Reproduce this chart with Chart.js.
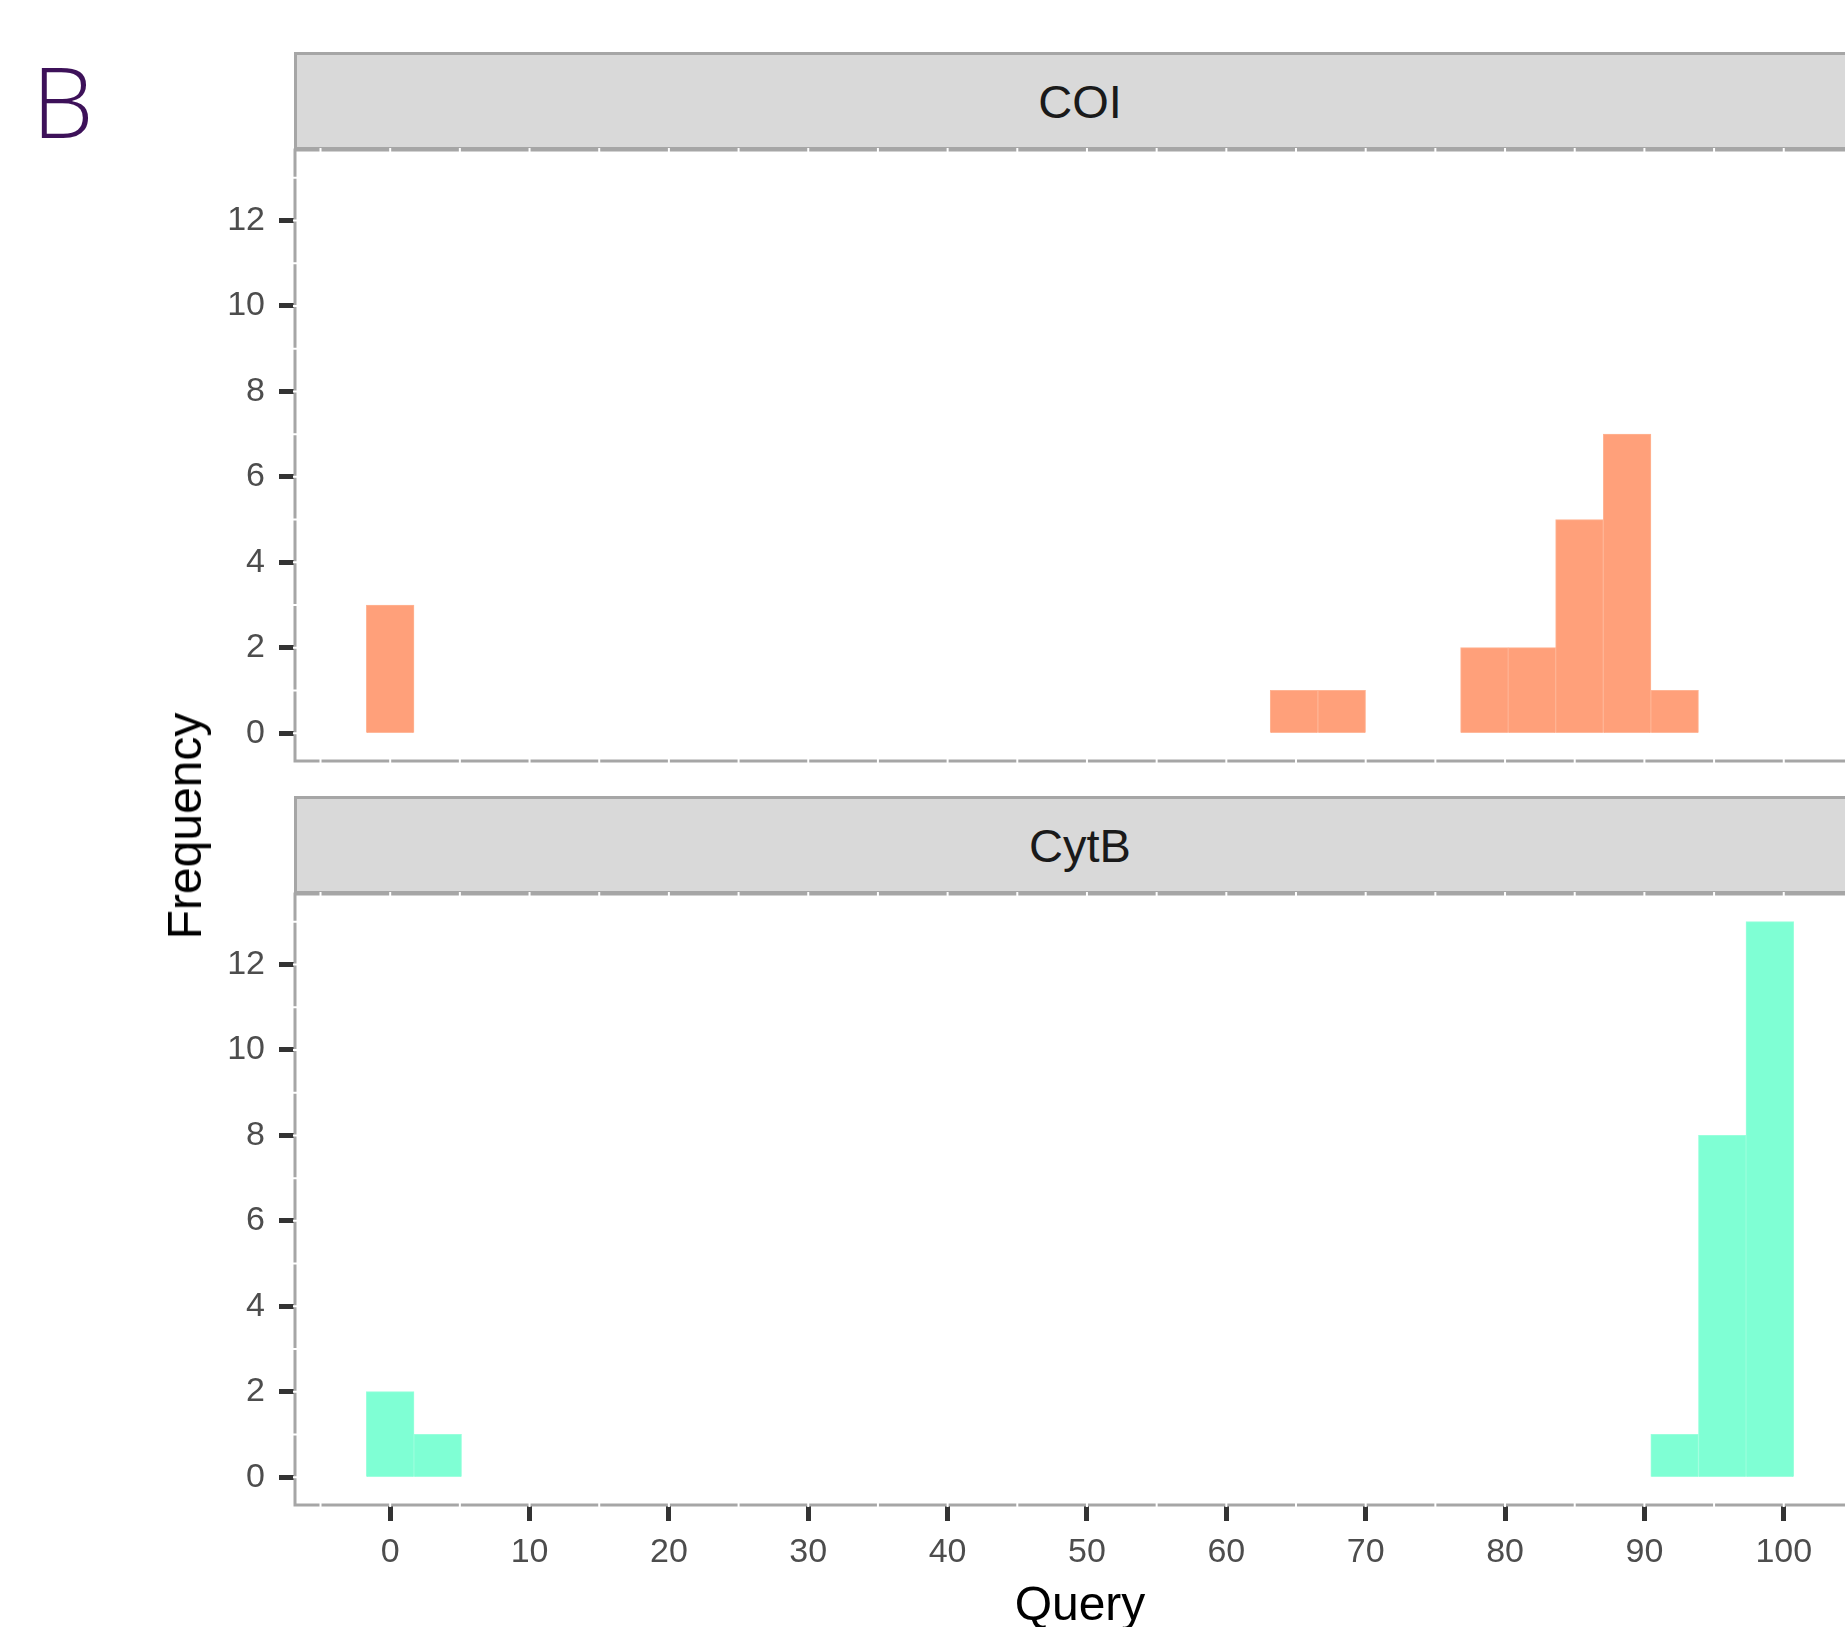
<!DOCTYPE html>
<html>
<head>
<meta charset="utf-8">
<script src="https://cdn.jsdelivr.net/npm/chart.js@4.4.1/dist/chart.umd.min.js"></script>
<style>
html, body { margin: 0; padding: 0; width: 1845px; height: 1627px; overflow: hidden; background: #fff; }
.box { position: absolute; }
.strip {
    position: absolute; left: 294px; width: 1620px; height: 98px; box-sizing: border-box;
    background: #D9D9D9; border: 3px solid #A6A6A6;
    font-family: 'Liberation Sans', Arial, sans-serif; font-size: 47px; color: #1A1A1A;
}
.strip span { position: absolute; left: 783px; top: 50%; transform: translate(-50%, -50%); line-height: 1; white-space: nowrap; }
.title { position: absolute; font-family: 'Liberation Sans', Arial, sans-serif; font-size: 48px; color: #000; line-height: 1; white-space: nowrap; }
#tag { position: absolute; left: 32px; top: 51px; font-family: 'Open Sans', sans-serif; font-weight: 300; font-size: 98px; line-height: 1; color: #3D1159; }
</style>
</head>
<body>
<div id="tag">B</div>

<div class="strip" style="top:52px"><span>COI</span></div>
<div class="box" style="left:0; top:146px; width:1865px; height:619px"><canvas id="coiChart"></canvas></div>

<div class="strip" style="top:796px"><span>CytB</span></div>
<div class="box" style="left:0; top:890px; width:1865px; height:737px"><canvas id="cytbChart"></canvas></div>

<div class="title" style="left:185px; top:826px; transform: translate(-50%, -50%) rotate(-90deg)">Frequency</div>
<div class="title" style="left:1080px; top:1580px; transform: translateX(-50%)">Query</div>

<script>
// Centres des classes de l'histogramme (30 classes, Query 0..99)
const binCenters = [0, 3.41, 6.83, 10.24, 13.66, 17.07, 20.48, 23.9, 27.31, 30.72,
    34.14, 37.55, 40.97, 44.38, 47.79, 51.21, 54.62, 58.03, 61.45, 64.86,
    68.28, 71.69, 75.1, 78.52, 81.93, 85.34, 88.76, 92.17, 95.59, 99];

// Effectifs par classe
const coiCounts  = [3, 0, 0, 0, 0, 0, 0, 0, 0, 0, 0, 0, 0, 0, 0, 0, 0, 0, 0, 1, 1, 0, 0, 2, 2, 5, 7, 1, 0, 0];
const cytbCounts = [2, 1, 0, 0, 0, 0, 0, 0, 0, 0, 0, 0, 0, 0, 0, 0, 0, 0, 0, 0, 0, 0, 0, 0, 0, 0, 0, 1, 8, 13];

// Graduations
const xTicks = [0, 10, 20, 30, 40, 50, 60, 70, 80, 90, 100];
const yTicks = [0, 2, 4, 6, 8, 10, 12];

const tickFont = { family: "'Liberation Sans', Arial, sans-serif", size: 34 };

// Cadre du panneau (gris) avec les petites coupures blanches de la grille
const panelFrame = {
    id: 'panelFrame',
    afterDraw(chart) {
        const { ctx, chartArea: a, scales } = chart;
        ctx.save();
        ctx.strokeStyle = '#A6A6A6';
        ctx.lineWidth = 3;
        ctx.strokeRect(a.left, a.top, a.right - a.left, a.bottom - a.top);

        ctx.strokeStyle = '#FFFFFF';
        ctx.lineWidth = 2;
        ctx.beginPath();
        for (let v = -5; v <= 105; v += 5) {
            const px = scales.x.getPixelForValue(v);
            ctx.moveTo(px, a.top - 2); ctx.lineTo(px, a.top + 2);
            ctx.moveTo(px, a.bottom - 2); ctx.lineTo(px, a.bottom + 2);
        }
        for (let v = 0; v <= 13; v++) {
            const py = scales.y.getPixelForValue(v);
            ctx.moveTo(a.left - 2, py); ctx.lineTo(a.left + 2, py);
        }
        ctx.stroke();
        ctx.restore();
    }
};

function makeHistogram(canvasId, counts, color, edgeColor, showX) {
    const points = binCenters.map((c, i) => ({ x: c, y: counts[i] > 0 ? counts[i] : null }));
    return new Chart(document.getElementById(canvasId), {
        type: 'bar',
        data: {
            datasets: [{
                data: points,
                backgroundColor: color,
                borderColor: edgeColor,
                borderWidth: 1,
                inflateAmount: 0.4,
                categoryPercentage: 1,
                barPercentage: 1
            }]
        },
        options: {
            responsive: true,
            maintainAspectRatio: false,
            animation: false,
            layout: { padding: { top: 4, bottom: showX ? 0 : 4, left: 0, right: 0 } },
            plugins: { legend: { display: false }, tooltip: { enabled: false } },
            scales: {
                x: {
                    type: 'linear',
                    display: showX,
                    offset: false,
                    min: -6.83,
                    max: 105.83,
                    afterBuildTicks: s => { s.ticks = xTicks.map(v => ({ value: v })); },
                    afterFit: s => {
                        if (showX) s.height = 122;
                        s.paddingLeft = 0;
                        s.paddingRight = 0;
                    },
                    grid: { display: true, offset: false, drawOnChartArea: false, tickLength: 16, tickWidth: 5, tickColor: '#333333' },
                    border: { display: false },
                    ticks: { color: '#4D4D4D', font: tickFont, padding: 11, maxRotation: 0, autoSkip: false }
                },
                y: {
                    type: 'linear',
                    min: -0.65,
                    max: 13.65,
                    afterBuildTicks: s => { s.ticks = yTicks.map(v => ({ value: v })); },
                    afterFit: s => {
                        s.width = 295;
                        s.paddingTop = 0;
                        s.paddingBottom = 0;
                    },
                    grid: { display: true, drawOnChartArea: false, tickLength: 16, tickWidth: 5, tickColor: '#333333' },
                    border: { display: false },
                    ticks: { color: '#4D4D4D', font: tickFont, padding: 14, autoSkip: false }
                }
            }
        },
        plugins: [panelFrame]
    });
}

makeHistogram('coiChart', coiCounts, '#FFA07A', '#FFB494', false);
makeHistogram('cytbChart', cytbCounts, '#7FFFD4', '#99FFDC', true);
</script>
</body>
</html>
